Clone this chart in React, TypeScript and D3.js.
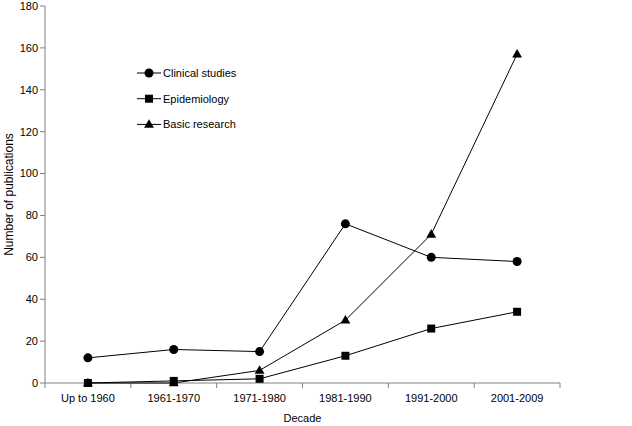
import React from "react";
import * as d3 from "d3";

const categories = ["Up to 1960", "1961-1970", "1971-1980", "1981-1990", "1991-2000", "2001-2009"];
const clinical = [12, 16, 15, 76, 60, 58];
const epidemiology = [0, 1, 2, 13, 26, 34];
const basic = [0, 0, 6, 30, 71, 157];
const yTicks = [0, 20, 40, 60, 80, 100, 120, 140, 160, 180];
const seriesNames = ["Clinical studies", "Epidemiology", "Basic research"];

const W = 632, H = 426;
const left = 45, right = 560, top = 6, bottom = 383;
const font = "Liberation Sans, Arial, sans-serif";

function Marker({ kind, x, y }: { kind: string; x: number; y: number }) {
  if (kind === "circle") return <circle cx={x} cy={y} r={4.5} fill="#000" />;
  if (kind === "square") return <rect x={x - 4} y={y - 4} width={8} height={8} fill="#000" />;
  const p = d3.symbol().type(d3.symbolTriangle).size(42)();
  return <path d={p || ""} transform={`translate(${x},${y + 0.5})`} fill="#000" />;
}

export default function App() {
  const x = d3.scaleBand().domain(categories).range([left, right]);
  const y = d3.scaleLinear().domain([0, 180]).range([bottom, top]);
  const series = [
    { name: seriesNames[0], vals: clinical, kind: "circle" },
    { name: seriesNames[1], vals: epidemiology, kind: "square" },
    { name: seriesNames[2], vals: basic, kind: "triangle" },
  ];
  const line = d3.line<number>().x((_, i) => (x(categories[i]) as number) + x.bandwidth() / 2).y(v => y(v));
  const bounds = [...categories.map(c => x(c) as number), right];
  const axisColor = "#808080";
  return (
    <svg width={W} height={H} style={{ position: "absolute", left: 0, top: 0, background: "#fff" }}>
      <line x1={left} x2={left} y1={top} y2={bottom} stroke={axisColor} strokeWidth={1} />
      {yTicks.map(t => (
        <g key={t}>
          <line x1={left - 5} x2={left} y1={y(t)} y2={y(t)} stroke={axisColor} />
          <text x={left - 7} y={y(t)} dy="0.35em" textAnchor="end" fontFamily={font} fontSize={11} fill="#000">{t}</text>
        </g>
      ))}
      <text transform={`translate(9,${(top + bottom) / 2}) rotate(-90)`} textAnchor="middle" fontFamily={font} fontSize={12} fill="#000" dy="0.35em">Number of publications</text>
      <line x1={left} x2={right} y1={bottom} y2={bottom} stroke={axisColor} />
      {bounds.map((b, i) => (
        <line key={i} x1={b} x2={b} y1={bottom} y2={bottom + 5} stroke={axisColor} />
      ))}
      {categories.map(c => (
        <text key={c} x={(x(c) as number) + x.bandwidth() / 2} y={bottom + 19} textAnchor="middle" fontFamily={font} fontSize={11} fill="#000">{c}</text>
      ))}
      <text x={(left + right) / 2} y={422} textAnchor="middle" fontFamily={font} fontSize={11} fill="#000">Decade</text>
      {series.map(s => (
        <g key={s.name}>
          <path d={line(s.vals) || ""} fill="none" stroke="#000" strokeWidth={1} />
          {s.vals.map((v, i) => (
            <Marker key={i} kind={s.kind} x={(x(categories[i]) as number) + x.bandwidth() / 2} y={y(v)} />
          ))}
        </g>
      ))}
      {series.map((s, i) => {
        const ly = 73 + i * 25.7;
        return (
          <g key={s.name}>
            <line x1={137} x2={161} y1={ly} y2={ly} stroke="#000" />
            <Marker kind={s.kind} x={149} y={ly} />
            <text x={163} y={ly} dy="0.35em" fontFamily={font} fontSize={11} fill="#000">{s.name}</text>
          </g>
        );
      })}
    </svg>
  );
}
